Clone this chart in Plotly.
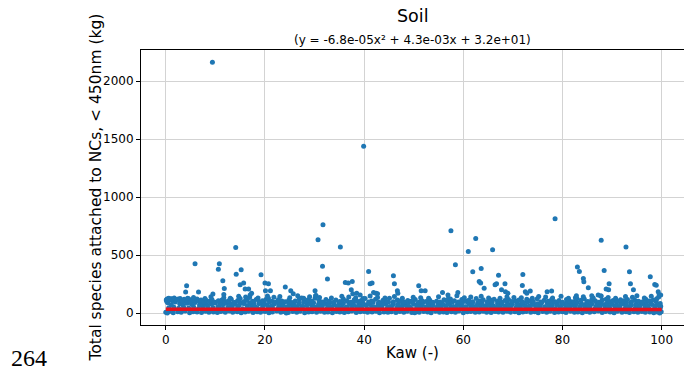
import plotly.graph_objects as go

# ---- data (Kaw vs total species, kg) ----
core_low_x = [
    0.0, 0.7, 1.5, 2.4, 3.1, 3.9, 4.8, 5.5, 6.3, 7.2,
    8.0, 8.7, 9.6, 10.4, 11.1, 12.0, 12.8, 13.5, 14.4, 15.2,
    16.0, 16.7, 17.6, 18.4, 19.1, 20.0, 20.8, 21.5, 22.4, 23.2,
    24.0, 24.7, 25.6, 26.4, 27.1, 28.0, 28.8, 29.5, 30.4, 31.2,
    32.0, 32.7, 33.6, 34.4, 35.1, 36.0, 36.8, 37.5, 38.4, 39.2,
    40.0, 40.7, 41.6, 42.4, 43.1, 44.0, 44.8, 45.5, 46.4, 47.2,
    48.0, 48.7, 49.6, 50.4, 51.1, 52.0, 52.8, 53.5, 54.4, 55.2,
    56.0, 56.7, 57.6, 58.4, 59.1, 60.0, 60.8, 61.5, 62.4, 63.2,
    64.0, 64.7, 65.6, 66.4, 67.1, 68.0, 68.8, 69.5, 70.4, 71.2,
    72.0, 72.7, 73.6, 74.4, 75.1, 76.0, 76.8, 77.5, 78.4, 79.2,
    80.0, 80.7, 81.6, 82.4, 83.1, 84.0, 84.8, 85.5, 86.4, 87.2,
    88.0, 88.7, 89.6, 90.4, 91.1, 92.0, 92.8, 93.5, 94.4, 95.2,
    96.0, 96.7, 97.6, 98.4, 99.1, 99.9, 0.3, 50.2, 99.6, 24.3,
]
core_low_y = [
    6, 14, 3, 11, 8, 17, 2, 12, 9, 5,
    15, 7, 10, 4, 13, 8, 18, 6, 11, 3,
    9, 16, 5, 12, 7, 14, 2, 10, 17, 6,
    11, 4, 13, 8, 15, 3, 9, 12, 6, 16,
    7, 10, 2, 14, 9, 5, 12, 17, 4, 11,
    13, 6, 9, 15, 3, 10, 7, 12, 5, 14,
    8, 16, 4, 11, 6, 13, 9, 2, 15, 7,
    10, 5, 12, 8, 17, 3, 11, 14, 6, 9,
    15, 7, 4, 13, 10, 6, 16, 8, 12, 3,
    9, 14, 6, 11, 2, 13, 7, 15, 5, 10,
    12, 4, 16, 8, 10, 3, 14, 6, 11, 17,
    5, 13, 9, 2, 15, 7, 11, 4, 12, 8,
    14, 6, 10, 3, 9, 12, 1, 2, 0, 1,
]
core_mid_x = [
    0.6, 1.6, 2.6, 3.6, 4.6, 5.6, 6.6, 7.5, 8.5, 9.5,
    10.5, 11.5, 12.5, 13.4, 14.5, 15.5, 16.5, 17.4, 18.5, 19.5,
    20.6, 21.5, 22.6, 23.5, 24.6, 25.5, 26.6, 27.5, 28.6, 29.5,
    30.6, 31.5, 32.6, 33.5, 34.6, 35.5, 36.6, 37.5, 38.6, 39.5,
    40.6, 41.5, 42.6, 43.5, 44.6, 45.5, 46.6, 47.5, 48.6, 49.5,
    50.6, 51.5, 52.6, 53.5, 54.6, 55.5, 56.6, 57.5, 58.6, 59.5,
    60.6, 61.5, 62.6, 63.5, 64.6, 65.5, 66.6, 67.5, 68.6, 69.5,
    70.6, 71.5, 72.6, 73.5, 74.6, 75.5, 76.6, 77.5, 78.6, 79.5,
    80.6, 81.5, 82.6, 83.5, 84.6, 85.5, 86.6, 87.5, 88.6, 89.5,
    90.6, 91.5, 92.6, 93.5, 94.6, 95.5, 96.6, 97.5, 98.6, 99.7,
]
core_mid_y = [
    46, 52, 41, 49, 44, 55, 39, 50, 43, 47,
    53, 40, 48, 45, 51, 38, 46, 54, 42, 49,
    44, 50, 39, 47, 53, 41, 45, 52, 40, 48,
    51, 43, 47, 38, 54, 45, 49, 42, 50, 44,
    40, 53, 46, 49, 41, 52, 44, 47, 55, 39,
    48, 42, 51, 45, 38, 50, 43, 54, 46, 41,
    52, 47, 40, 49, 44, 53, 39, 48, 45, 51,
    43, 50, 46, 41, 54, 47, 42, 49, 38, 52,
    45, 39, 53, 48, 44, 50, 41, 46, 51, 43,
    49, 54, 42, 47, 40, 52, 45, 38, 50, 44,
]
core_high_x = [
    0.4, 1.1, 1.9, 2.8, 3.5, 4.3, 5.2, 5.9, 6.8, 7.6,
    8.4, 9.2, 10.0, 10.8, 11.6, 12.4, 13.2, 13.9, 14.8, 15.6,
    16.4, 17.2, 18.0, 18.8, 19.6, 20.4, 21.2, 21.9, 22.8, 23.6,
    24.4, 25.2, 26.0, 26.8, 27.6, 28.4, 29.2, 29.9, 30.8, 31.6,
    32.4, 33.2, 34.0, 34.8, 35.6, 36.4, 37.2, 37.9, 38.8, 39.6,
    40.4, 41.2, 42.0, 42.8, 43.6, 44.4, 45.2, 45.9, 46.8, 47.6,
    48.4, 49.2, 50.0, 50.8, 51.6, 52.4, 53.2, 53.9, 54.8, 55.6,
    56.4, 57.2, 58.0, 58.8, 59.6, 60.4, 61.2, 61.9, 62.8, 63.6,
    64.4, 65.2, 66.0, 66.8, 67.6, 68.4, 69.2, 69.9, 70.8, 71.6,
    72.4, 73.2, 74.0, 74.8, 75.6, 76.4, 77.2, 77.9, 78.8, 79.6,
    80.4, 81.2, 82.0, 82.8, 83.6, 84.4, 85.2, 85.9, 86.8, 87.6,
    88.4, 89.2, 90.0, 90.8, 91.6, 92.4, 93.2, 93.9, 94.8, 95.6,
    96.4, 97.2, 98.0, 98.8, 99.5, 99.8, 0.2, 99.7, 3.0, 8.0,
]
core_high_y = [
    88, 72, 95, 80, 68, 85, 76, 92, 70, 83,
    66, 79, 87, 61, 74, 82, 58, 77, 69, 84,
    63, 75, 56, 81, 67, 72, 59, 78, 64, 70,
    55, 73, 62, 79, 58, 68, 76, 54, 71, 65,
    80, 57, 69, 63, 77, 52, 74, 66, 60, 72,
    67, 75, 53, 70, 62, 78, 56, 73, 64, 59,
    71, 55, 76, 61, 68, 52, 74, 65, 58, 70,
    63, 77, 57, 72, 66, 54, 79, 60, 69, 75,
    58, 70, 64, 53, 76, 62, 68, 74, 56, 71,
    66, 59, 73, 61, 78, 55, 69, 64, 72, 57,
    75, 62, 68, 80, 56, 71, 63, 77, 59, 66,
    72, 58, 74, 65, 61, 79, 57, 70, 67, 63,
    76, 60, 73, 64, 69, 58, 100, 82, 90, 78,
]
core_top_x = [
    0.1, 1.4, 2.0, 3.0, 4.1, 4.9, 5.8, 6.9, 7.8, 8.9,
    9.8, 10.9, 11.8, 12.9, 13.8, 14.9, 15.8, 16.9, 17.8, 18.9,
    19.8, 20.9, 21.8, 22.9, 23.8, 24.9, 25.8, 26.9, 27.8, 28.9,
    29.8, 30.9, 31.8, 32.9, 33.8, 34.9, 35.8, 36.9, 37.8, 38.9,
    39.8, 40.9, 41.8, 42.9, 43.8, 44.9, 45.8, 46.9, 47.8, 48.9,
    49.8, 50.9, 51.8, 52.9, 53.8, 54.9, 55.8, 56.9, 57.8, 58.9,
    59.8, 60.9, 61.8, 62.9, 63.8, 64.9, 65.8, 66.9, 67.8, 68.9,
    69.8, 70.9, 71.8, 72.9, 73.8, 74.9, 75.8, 76.9, 77.8, 78.9,
    79.8, 80.9, 81.8, 82.9, 83.8, 84.9, 85.8, 86.9, 87.8, 88.9,
    89.8, 90.9, 91.8, 92.9, 93.8, 94.9, 95.8, 96.9, 97.8, 98.9,
]
core_top_y = [
    112, 105, 114, 108, 98, 110, 95, 104, 91, 100,
    94, 88, 99, 85, 92, 96, 83, 90, 87, 93,
    86, 97, 82, 89, 94, 84, 91, 86, 95, 81,
    90, 85, 93, 80, 88, 92, 84, 89, 82, 94,
    87, 81, 91, 86, 83, 95, 88, 80, 90, 85,
    92, 84, 87, 81, 93, 86, 82, 89, 96, 83,
    88, 94, 85, 90, 82, 87, 93, 81, 89, 86,
    91, 83, 88, 95, 84, 80, 92, 87, 85, 90,
    82, 89, 86, 93, 81, 88, 96, 84, 91, 85,
    87, 92, 83, 90, 86, 81, 94, 88, 84, 97,
]
fringe_x = [
    0.2, 0.5, 0.8, 1.2, 1.4, 1.8, 2.1, 2.5, 2.9, 3.3,
    3.7, 4.2, 4.6, 5.0, 5.4, 5.9, 6.3, 6.7, 7.1, 7.6,
    8.2, 8.8, 9.3, 9.9, 10.6, 11.3, 11.9, 12.6, 13.2, 13.9,
    14.5, 15.0, 15.8, 16.3, 16.9, 17.5, 18.2, 18.9, 19.5, 20.2,
    20.7, 21.4, 22.1, 22.7, 23.4, 24.1, 24.8, 25.3, 26.1, 26.9,
    27.4, 28.2, 28.7, 29.4, 30.1, 30.9, 31.5, 32.3, 33.0, 33.8,
    34.3, 35.1, 35.8, 36.5, 37.3, 38.0, 38.6, 39.4, 40.2, 40.9,
    41.5, 42.3, 43.0, 43.8, 44.5, 45.1, 45.9, 46.7, 47.3, 48.1,
    48.8, 49.5, 50.3, 51.0, 51.7, 52.5, 53.2, 53.8, 54.6, 55.3,
    56.1, 56.8, 57.4, 58.2, 59.0, 59.7, 60.5, 61.1, 61.9, 62.6,
    63.3, 64.0, 64.8, 65.5, 66.2, 66.9, 67.7, 68.4, 69.1, 69.8,
    70.6, 71.2, 72.0, 72.8, 73.5, 74.1, 74.9, 75.6, 76.3, 77.1,
    77.8, 78.5, 79.3, 80.0, 80.8, 81.5, 82.2, 82.9, 83.7, 84.4,
    85.1, 85.9, 86.6, 87.3, 88.0, 88.8, 89.5, 90.2, 91.0, 91.7,
    92.4, 93.1, 93.9, 94.6, 95.3, 96.1, 96.8, 97.5, 98.3, 99.0,
]
fringe_y = [
    120, 126, 114, 124, 118, 122, 110, 121, 125, 105,
    119, 110, 124, 98, 115, 108, 121, 102, 113, 96,
    109, 100, 117, 94, 106, 112, 97, 104, 120, 92,
    108, 125, 99, 111, 134, 103, 116, 95, 107, 118,
    128, 101, 93, 114, 105, 98, 110, 91, 104, 122,
    130, 97, 115, 102, 127, 109, 96, 118, 103, 92,
    112, 99, 121, 106, 94, 114, 101, 108, 125, 96,
    105, 119, 93, 111, 100, 128, 97, 113, 104, 95,
    109, 102, 117, 94, 106, 99, 112, 91, 103, 96,
    114, 100, 122, 107, 95, 118, 103, 110, 97, 126,
    105, 115, 98, 112, 120, 101, 94, 109, 117, 99,
    104, 113, 96, 119, 107, 100, 123, 95, 111, 102,
    116, 98, 108, 93, 118, 103, 97, 126, 110, 121,
    100, 114, 106, 94, 112, 119, 99, 108, 102, 115,
    107, 118, 97, 111, 103, 96, 120, 105, 113, 124,
]
upper_fringe_x = [
    0.6, 1.0, 1.7, 2.2, 4.4, 5.6, 7.9, 9.1, 11.7, 13.0,
    14.7, 16.1, 17.0, 18.6, 20.5, 21.8, 23.0, 25.0, 26.6, 27.8,
    29.0, 30.3, 31.0, 33.4, 35.5, 36.9, 38.3, 39.8, 41.2, 42.7,
    44.2, 46.1, 47.7, 49.9, 51.4, 53.0, 55.0, 57.0, 58.7, 60.2,
    61.5, 63.6, 65.1, 67.4, 68.8, 70.2, 71.7, 73.9, 75.2, 76.6,
    78.0, 79.7, 81.2, 82.6, 84.2, 86.2, 87.8, 89.2, 90.7, 92.7,
    94.1, 95.0, 96.5, 97.9, 99.4, 99.8,
]
upper_fringe_y = [
    128, 122, 130, 118, 128, 135, 126, 140, 132, 128,
    145, 138, 155, 130, 148, 136, 142, 132, 150, 128,
    140, 152, 135, 130, 145, 138, 132, 126, 148, 135,
    130, 142, 128, 136, 132, 127, 140, 125, 150, 133,
    138, 145, 130, 128, 140, 135, 132, 128, 142, 138,
    130, 145, 128, 133, 140, 130, 148, 135, 128, 142,
    136, 150, 130, 145, 138, 155,
]
scatter_x = [
    10.6, 14.2, 15.2, 11.5, 11.8, 4.2, 4.0, 6.6, 15.0, 15.7,
    16.0, 16.7, 17.3, 19.2, 20.0, 20.7, 20.1, 21.1, 9.5, 11.7,
    30.1, 30.2, 31.6, 32.6, 24.1, 25.2, 25.7, 36.2, 36.8, 37.6,
    37.4, 37.7, 38.5, 39.2, 40.9, 41.2, 41.6, 41.9, 42.4, 42.7,
    45.9, 46.1, 46.7, 46.8, 51.0, 51.5, 52.3, 55.8, 56.9, 58.9,
    61.9, 63.6, 63.2, 63.5, 64.2, 67.1, 66.7, 66.4, 68.4, 67.7,
    68.5, 69.0, 72.0, 71.9, 72.5, 72.8, 76.9, 77.8, 83.0, 83.4,
    84.2, 84.3, 85.2, 88.4, 89.4, 88.8, 89.3, 93.5, 93.7, 94.3,
    97.7, 98.6, 98.9, 99.3, 99.5, 85.9, 87.2, 82.8, 73.5, 87.7,
]
scatter_y = [
    379, 336, 373, 278, 212, 235, 181, 181, 244, 259,
    207, 207, 172, 330, 259, 253, 192, 192, 165, 160,
    192, 149, 405, 293, 224, 192, 166, 264, 259, 272,
    201, 166, 172, 155, 359, 253, 259, 178, 172, 166,
    322, 253, 192, 172, 235, 192, 192, 178, 155, 178,
    356, 384, 272, 259, 215, 327, 253, 244, 253, 201,
    184, 172, 333, 238, 184, 172, 184, 190, 397, 359,
    298, 270, 218, 367, 253, 207, 201, 356, 253, 201,
    313, 247, 241, 184, 158, 150, 155, 150, 190, 147,
]
outlier_x = [9.4, 39.9, 14.1, 30.7, 31.7, 35.2, 57.5, 58.4, 61.0, 62.5,
             65.9, 78.5, 87.8, 92.8, 5.9, 10.8]
outlier_y = [2165, 1440, 566, 632, 762, 569, 711, 416, 532, 643,
             546, 813, 629, 569, 425, 425]

# quadratic fit line as shown (y = -6.8e-05x^2 + 4.3e-03x + 3.2e+01)
fit_x = [0, 25, 50, 75, 100]
fit_y = [32.0, 32.06, 32.05, 31.94, 31.75]

x_ticks = [0, 20, 40, 60, 80, 100]
y_ticks = [0, 500, 1000, 1500, 2000]

kaw = (core_low_x + core_mid_x + core_high_x + core_top_x + fringe_x
       + upper_fringe_x + scatter_x + outlier_x)
total = (core_low_y + core_mid_y + core_high_y + core_top_y + fringe_y
         + upper_fringe_y + scatter_y + outlier_y)
assert len(kaw) == len(total)

FONT = "DejaVu Sans"
fig = go.Figure()
fig.add_trace(go.Scatter(
    x=kaw, y=total, mode="markers",
    marker=dict(color="#1f77b4", size=5, line=dict(width=0)),
    showlegend=False, hoverinfo="skip",
))
fig.add_trace(go.Scatter(
    x=fit_x, y=fit_y, mode="lines",
    line=dict(color="#e8101c", width=3.5),
    showlegend=False, hoverinfo="skip",
))

fig.update_layout(
    width=684, height=373,
    margin=dict(l=141, r=0, t=50, b=48),
    paper_bgcolor="white", plot_bgcolor="white",
    hovermode=False,
    font=dict(family=FONT, color="black", size=12),
    xaxis=dict(
        range=[-5, 104.5], tickvals=x_ticks, ticktext=[str(v) for v in x_ticks],
        showgrid=True, gridcolor="#d3d3d3", gridwidth=1,
        showline=True, linecolor="black", linewidth=1, mirror=True,
        ticks="outside", ticklen=4, tickcolor="black",
        tickfont=dict(size=12, family=FONT), zeroline=False,
    ),
    yaxis=dict(
        range=[-103, 2270], tickvals=y_ticks, ticktext=[str(v) for v in y_ticks],
        showgrid=True, gridcolor="#d3d3d3", gridwidth=1,
        showline=True, linecolor="black", linewidth=1, mirror=False,
        ticks="outside", ticklen=4, tickcolor="black",
        tickfont=dict(size=12, family=FONT), zeroline=False,
    ),
    annotations=[
        dict(text="Soil", xref="paper", yref="paper", x=0.5, y=1.125,
             xanchor="center", yanchor="middle", showarrow=False,
             font=dict(size=17.5, family=FONT)),
        dict(text="(y = -6.8e-05x² + 4.3e-03x + 3.2e+01)", xref="paper", yref="paper",
             x=0.5, y=1.036, xanchor="center", yanchor="middle", showarrow=False,
             font=dict(size=12, family=FONT)),
        dict(text="Kaw (-)", xref="paper", yref="paper", x=0.5, y=-0.10,
             xanchor="center", yanchor="middle", showarrow=False,
             font=dict(size=15, family=FONT)),
        dict(text="Total species attached to NCs, < 450nm (kg)", xref="paper", yref="paper",
             x=-0.0847, y=0.5, xanchor="center", yanchor="middle", textangle=-90,
             showarrow=False, font=dict(size=15.5, family=FONT)),
        dict(text="264", xref="paper", yref="paper", x=-0.243, y=-0.12,
             xanchor="left", yanchor="middle", showarrow=False,
             font=dict(size=24, family="Liberation Serif")),
    ],
)

fig.write_html("out.html", config={"staticPlot": True, "displayModeBar": False},
               post_script="document.body.style.margin='0px';")
